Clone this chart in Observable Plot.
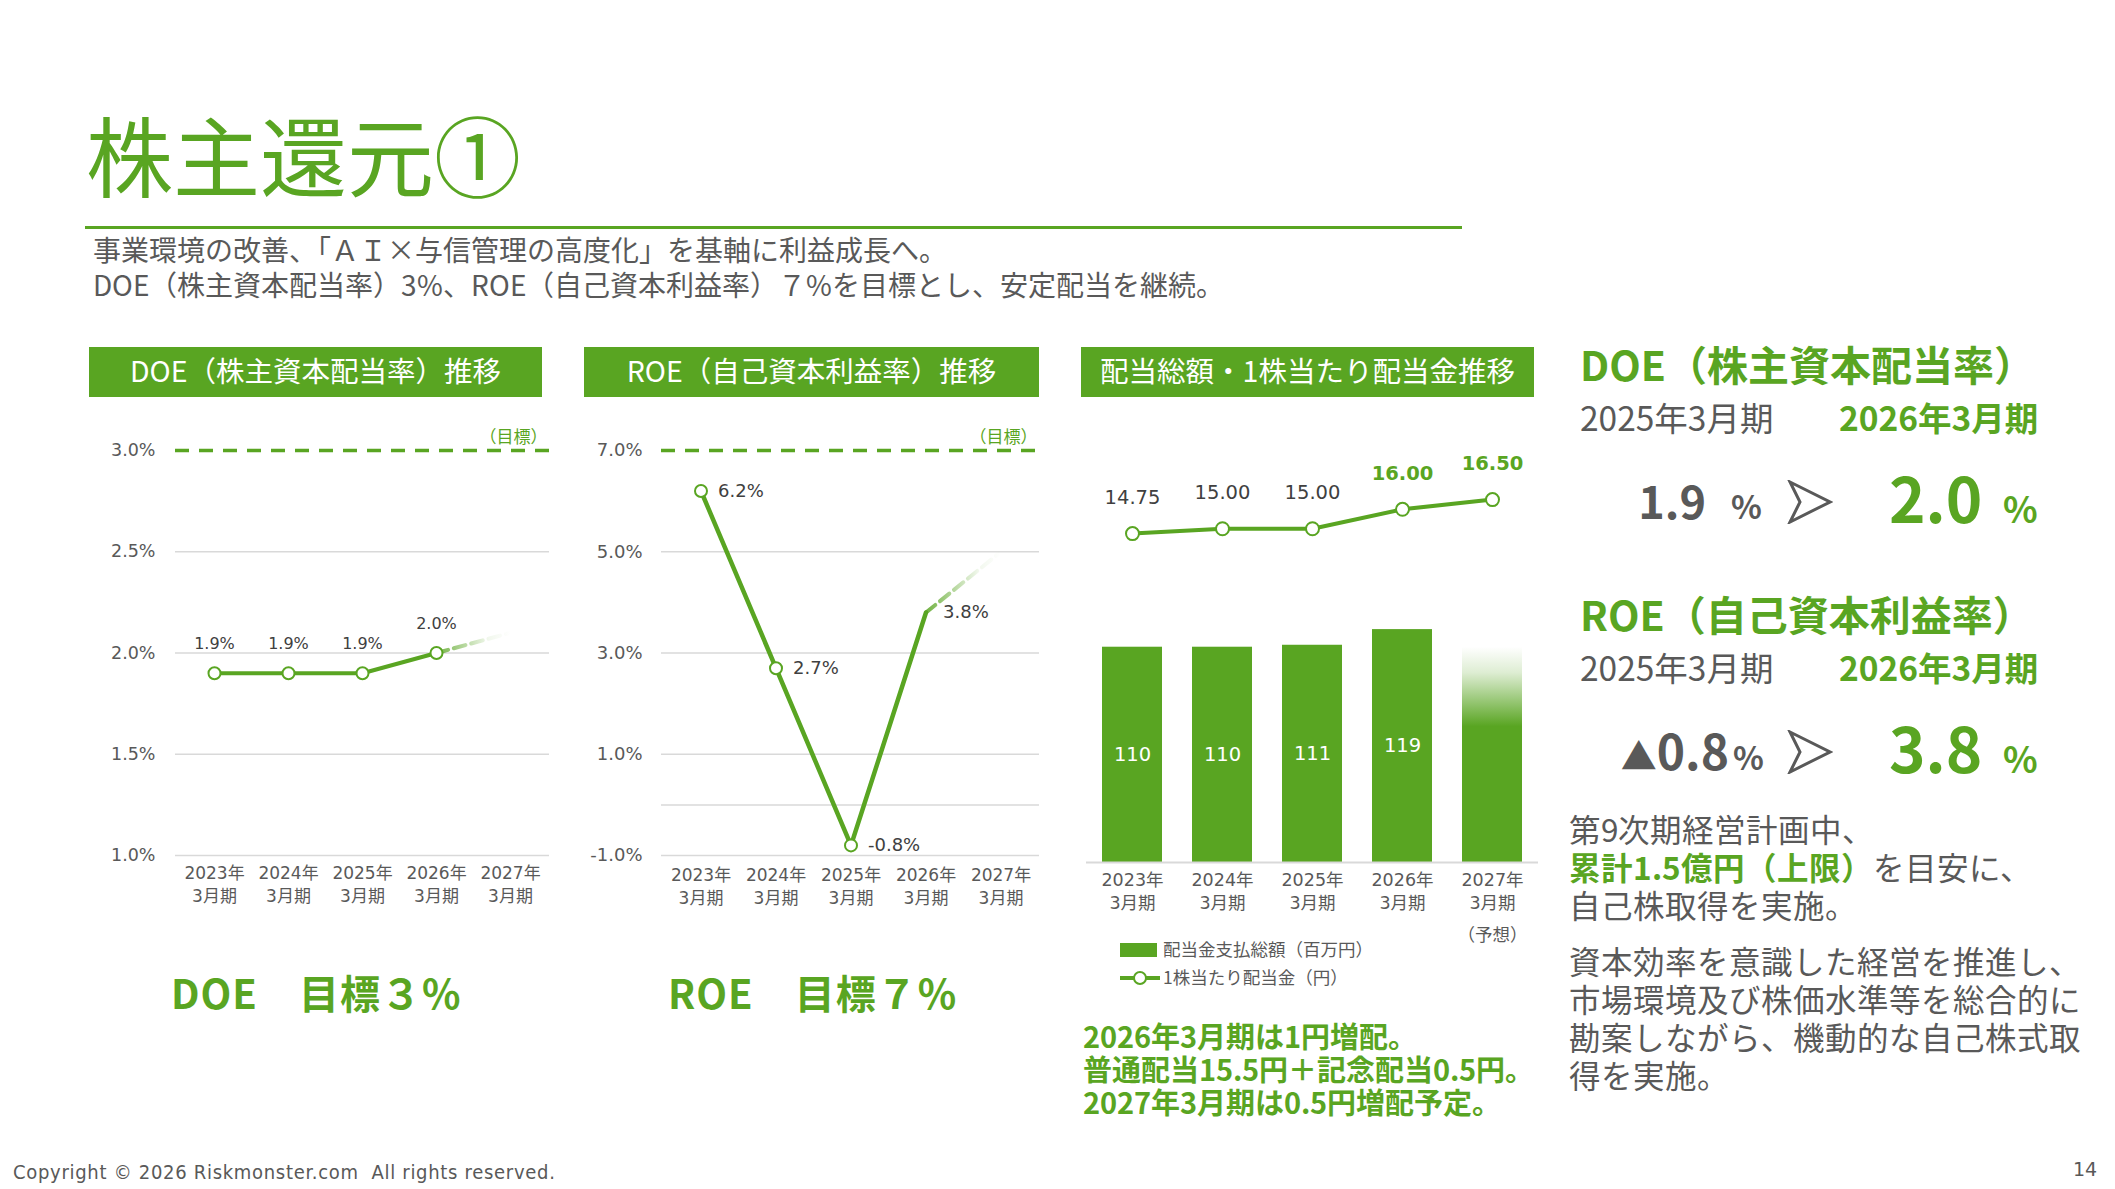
<!DOCTYPE html>
<html lang="ja">
<head>
<meta charset="utf-8">
<script src="https://cdn.jsdelivr.net/npm/d3@7"></script>
<script src="https://cdn.jsdelivr.net/npm/@observablehq/plot@0.6"></script>
<style>
  @font-face {
    font-family: "JPTight";
    src: local("Noto Sans CJK JP Regular"), local("NotoSansCJKjp-Regular"), local("Noto Sans CJK JP");
    font-weight: 400;
    ascent-override: 93.5%; descent-override: 6.5%; line-gap-override: 0%;
  }
  @font-face {
    font-family: "JPTight";
    src: local("Noto Sans CJK JP Bold"), local("NotoSansCJKjp-Bold");
    font-weight: 700;
    ascent-override: 93.5%; descent-override: 6.5%; line-gap-override: 0%;
  }
  html, body { margin: 0; padding: 0; background: #fff; }
  #page { position: relative; width: 2115px; height: 1189px; overflow: hidden;
          font-family: "Noto Sans CJK JP", "Noto Sans", sans-serif; color: #595959; }
  .t { position: absolute; white-space: nowrap; }
  .tight { font-family: "JPTight", "Noto Sans CJK JP", sans-serif; }
  .g { color: #59a522; }
  .b { font-weight: 700; }
  .hdr { position: absolute; top: 347px; height: 50px; box-sizing: border-box; padding-bottom: 6px;
         background: #59a522; color: #fff;
         display: flex; align-items: center; justify-content: center; font-size: 28.5px; }
  .chart { position: absolute; }
  .chart svg { overflow: visible; }
</style>
</head>
<body>
<svg width="0" height="0" style="position:absolute">
  <defs>
    <linearGradient id="fadeLine" x1="0" y1="0" x2="1" y2="0">
      <stop offset="0" stop-color="#59a522" stop-opacity="0.85"/>
      <stop offset="0.7" stop-color="#59a522" stop-opacity="0.08"/>
      <stop offset="1" stop-color="#59a522" stop-opacity="0"/>
    </linearGradient>
    <linearGradient id="fadeBar" x1="0" y1="0" x2="0" y2="1">
      <stop offset="0" stop-color="#59a522" stop-opacity="0"/>
      <stop offset="0.12" stop-color="#59a522" stop-opacity="0.2"/>
      <stop offset="0.37" stop-color="#59a522" stop-opacity="1"/>
      <stop offset="1" stop-color="#59a522" stop-opacity="1"/>
    </linearGradient>
  </defs>
</svg>
<div id="page">
  <div class="t g" style="left:86px;top:110px;font-size:87px;line-height:87px;">株主還元①</div>
  <div style="position:absolute;left:85px;top:226px;width:1377px;height:3px;background:#59a522;"></div>
  <div class="t tight" style="left:93px;top:232px;font-size:28px;line-height:35px;">事業環境の改善、「ＡＩ×与信管理の高度化」を基軸に利益成長へ。<br>DOE（株主資本配当率）3%、ROE（自己資本利益率）７%を目標とし、安定配当を継続。</div>

  <div class="hdr" style="left:89px;width:453px;">DOE（株主資本配当率）推移</div>
  <div class="hdr" style="left:584px;width:455px;">ROE（自己資本利益率）推移</div>
  <div class="hdr" style="left:1081px;width:453px;">配当総額・1株当たり配当金推移</div>

  <div id="doe" class="chart" style="left:89px;top:410px;"></div>
  <div id="roe" class="chart" style="left:584px;top:410px;"></div>
  <div id="divBars" class="chart" style="left:1076px;top:420px;"></div>
  <div id="divLine" class="chart" style="left:1076px;top:420px;pointer-events:none;"></div>

  <div class="t g b" style="left:171px;top:972px;font-size:40px;line-height:40px;letter-spacing:1px;">DOE　目標３%</div>
  <div class="t g b" style="left:668px;top:972px;font-size:40px;line-height:40px;letter-spacing:1px;">ROE　目標７%</div>

  <!-- legend -->
  <div style="position:absolute;left:1120px;top:943px;width:37px;height:14px;background:#59a522;"></div>
  <div class="t" style="left:1163px;top:940px;font-size:17.5px;line-height:17.5px;">配当金支払総額（百万円）</div>
  <div style="position:absolute;left:1120px;top:976px;width:40px;height:4px;background:#59a522;"></div>
  <div style="position:absolute;left:1133px;top:971px;width:10px;height:10px;border:2.5px solid #59a522;border-radius:50%;background:#fff;"></div>
  <div class="t" style="left:1163px;top:968px;font-size:17.5px;line-height:17.5px;">1株当たり配当金（円）</div>

  <div class="t tight g b" style="left:1083px;top:1019px;font-size:29px;line-height:33px;">2026年3月期は1円増配。<br>普通配当15.5円＋記念配当0.5円。<br>2027年3月期は0.5円増配予定。</div>

  <!-- right panel -->
  <div class="t g b" style="left:1580px;top:343px;font-size:41px;line-height:41px;">DOE（株主資本配当率）</div>
  <div class="t" style="left:1580px;top:400px;font-size:33.5px;line-height:33.5px;">2025年3月期</div>
  <div class="t g b" style="left:1839px;top:400px;font-size:33.5px;line-height:33.5px;">2026年3月期</div>
  <div id="doePrev" class="t b" style="left:1556px;width:150px;text-align:right;top:477px;font-size:45px;line-height:45px;"></div>
  <div class="t b" style="left:1731px;top:489px;font-size:32px;line-height:32px;">%</div>
  <svg style="position:absolute;left:1787px;top:480px;" width="46" height="44"><polygon points="3,2 43,22 3,42 13,22" fill="none" stroke="#595959" stroke-width="3" stroke-linejoin="miter"/></svg>
  <div id="doeCur" class="t g b" style="left:1889px;top:465px;font-size:62px;line-height:62px;"></div>
  <div class="t g b" style="left:2003px;top:489px;font-size:36px;line-height:36px;">%</div>

  <div class="t g b" style="left:1580px;top:593px;font-size:41px;line-height:41px;">ROE（自己資本利益率）</div>
  <div class="t" style="left:1580px;top:650px;font-size:33.5px;line-height:33.5px;">2025年3月期</div>
  <div class="t g b" style="left:1839px;top:650px;font-size:33.5px;line-height:33.5px;">2026年3月期</div>
  <div class="t b" style="left:1556px;width:173px;text-align:right;top:725px;font-size:48px;line-height:48px;"><span id="roeSign" style="font-size:36px;"></span><span id="roePrev"></span></div>
  <div class="t b" style="left:1733px;top:740px;font-size:32px;line-height:32px;">%</div>
  <svg style="position:absolute;left:1787px;top:730px;" width="46" height="44"><polygon points="3,2 43,22 3,42 13,22" fill="none" stroke="#595959" stroke-width="3" stroke-linejoin="miter"/></svg>
  <div id="roeCur" class="t g b" style="left:1889px;top:715px;font-size:62px;line-height:62px;"></div>
  <div class="t g b" style="left:2003px;top:739px;font-size:36px;line-height:36px;">%</div>

  <div class="t tight" style="left:1569px;top:810px;font-size:31.5px;line-height:38px;">第9次期経営計画中、<br><span class="g b">累計1.5億円（上限）</span>を目安に、<br>自己株取得を実施。</div>
  <div class="t tight" style="left:1569px;top:942px;font-size:31.5px;line-height:38px;">資本効率を意識した経営を推進し、<br>市場環境及び株価水準等を総合的に<br>勘案しながら、機動的な自己株式取<br>得を実施。</div>

  <div class="t" style="left:13px;top:1162px;font-size:20px;line-height:20px;letter-spacing:0.7px;font-family:'DejaVu Sans Condensed','DejaVu Sans',sans-serif;font-stretch:semi-condensed;">Copyright © 2026 Riskmonster.com&nbsp;&nbsp;All rights reserved.</div>
  <div class="t" style="left:2073px;top:1160px;font-size:19px;line-height:19px;font-family:'DejaVu Sans',sans-serif;">14</div>
</div>

<script>
// ---------- data ----------
const years = ["2023年3月期", "2024年3月期", "2025年3月期", "2026年3月期", "2027年3月期"];
const yearTop = ["2023年", "2024年", "2025年", "2026年", "2027年"];
const yearBottom = ["3月期", "3月期", "3月期", "3月期", "3月期"];
const forecastNote = ["（予想）"];               // under the 2027 dividend label

const doeValues = [1.9, 1.9, 1.9, 2.0];          // 2023–2026 actual (%)
const doeProjection = 2.1;                        // faded 2027 extension (estimated)
const doeTarget = 3.0;
const doeTicks = [1.0, 1.5, 2.0, 2.5, 3.0];

const roeValues = [6.2, 2.7, -0.8, 3.8];          // 2023–2026 (%)
const roeProjection = 5.0;                        // faded 2027 extension (estimated)
const roeTarget = 7.0;
const roeTicks = [-1.0, 1.0, 3.0, 5.0, 7.0];

const dividendTotal = [110, 110, 111, 119];       // 百万円, 2023–2026
const dividendTotalForecast = 110;                // 2027 forecast bar (faded, unlabeled)
const dps = [14.75, 15.00, 15.00, 16.00, 16.50];  // 円, 2023–2027

// ---------- style ----------
const green = "#59a522";
const grid = "#d9d9d9";
const textGray = "#595959";
const chartFont = "'DejaVu Sans', 'Noto Sans CJK JP', sans-serif";
const baseStyle = {fontFamily: chartFont, color: textGray, background: "transparent", overflow: "visible"};

// ---------- right panel numbers from data ----------
document.getElementById("doePrev").textContent = doeValues[2].toFixed(1);
document.getElementById("doeCur").textContent = doeValues[3].toFixed(1);
document.getElementById("roeSign").textContent = roeValues[2] < 0 ? "▲" : "";
document.getElementById("roePrev").textContent = Math.abs(roeValues[2]).toFixed(1);
document.getElementById("roeCur").textContent = roeValues[3].toFixed(1);

function yearLabelMarks(dy1, dy2, size) {
  return [
    Plot.text(years, {x: d => d, frameAnchor: "bottom", dy: dy1, text: (d, i) => yearTop[i], fontSize: size, fill: textGray}),
    Plot.text(years, {x: d => d, frameAnchor: "bottom", dy: dy2, text: (d, i) => yearBottom[i], fontSize: size, fill: textGray})
  ];
}

// ---------- DOE chart ----------
const doeData = doeValues.map((v, i) => ({year: years[i], value: v}));
const doeFade = [{year: years[3], value: doeValues[3]}, {year: years[4], value: doeProjection}];
document.getElementById("doe").append(Plot.plot({
  width: 470, height: 505,
  marginLeft: 86, marginRight: 10, marginTop: 40, marginBottom: 60,
  style: {...baseStyle, fontSize: "17px"},
  x: {type: "band", domain: years, padding: 0, axis: null},
  y: {domain: [1, 3], axis: null},
  marks: [
    Plot.ruleY(doeTicks.filter(t => t < doeTarget), {y: d => d, stroke: grid, strokeWidth: 1.5}),
    Plot.ruleY([doeTarget], {y: d => d, stroke: green, strokeWidth: 3.5, strokeDasharray: "14,10"}),
    Plot.text([doeTarget], {y: d => d, frameAnchor: "right", textAnchor: "end", dy: -13, dx: -2, text: () => "（目標）", fill: green, fontSize: 17}),
    Plot.text(doeTicks, {y: d => d, frameAnchor: "left", textAnchor: "end", dx: -20, text: d => d.toFixed(1) + "%", fontSize: 17.5, fill: textGray}),
    Plot.line(doeFade, {x: "year", y: "value", stroke: "url(#fadeLine)", strokeWidth: 4, strokeDasharray: "12,6"}),
    Plot.line(doeData, {x: "year", y: "value", stroke: green, strokeWidth: 4}),
    Plot.dot(doeData, {x: "year", y: "value", r: 6, fill: "white", stroke: green, strokeWidth: 2}),
    Plot.text(doeData, {x: "year", y: "value", dy: -29, text: d => d.value.toFixed(1) + "%", fontSize: 16, fill: "#404040"}),
    ...yearLabelMarks(23, 46, 17)
  ]
}));

// ---------- ROE chart ----------
const roeData = roeValues.map((v, i) => ({year: years[i], value: v}));
const roeFade = [{year: years[3], value: roeValues[3]}, {year: years[4], value: roeProjection}];
document.getElementById("roe").append(Plot.plot({
  width: 465, height: 505,
  marginLeft: 77, marginRight: 10, marginTop: 40, marginBottom: 60,
  style: {...baseStyle, fontSize: "17px"},
  x: {type: "band", domain: years, padding: 0, axis: null},
  y: {domain: [-1, 7], axis: null},
  marks: [
    Plot.ruleY(roeTicks.filter(t => t < roeTarget).concat([0]), {y: d => d, stroke: grid, strokeWidth: 1.5}),
    Plot.ruleY([roeTarget], {y: d => d, stroke: green, strokeWidth: 3.5, strokeDasharray: "14,10"}),
    Plot.text([roeTarget], {y: d => d, frameAnchor: "right", textAnchor: "end", dy: -13, dx: -2, text: () => "（目標）", fill: green, fontSize: 17}),
    Plot.text(roeTicks, {y: d => d, frameAnchor: "left", textAnchor: "end", dx: -19, text: d => d.toFixed(1) + "%", fontSize: 18, fill: textGray}),
    Plot.line(roeFade, {x: "year", y: "value", stroke: "url(#fadeLine)", strokeWidth: 4, strokeDasharray: "12,6"}),
    Plot.line(roeData, {x: "year", y: "value", stroke: green, strokeWidth: 4.5}),
    Plot.dot(roeData, {x: "year", y: "value", filter: (d, i) => i < 3, r: 6, fill: "white", stroke: green, strokeWidth: 2}),
    Plot.text(roeData, {x: "year", y: "value", dx: 17, textAnchor: "start", text: d => d.value.toFixed(1) + "%", fontSize: 18, fill: "#404040"}),
    ...yearLabelMarks(25, 48, 17)
  ]
}));

// ---------- Dividend bars ----------
const divData = dividendTotal.map((v, i) => ({year: years[i], value: v}));
const divForecast = [{year: years[4], value: dividendTotalForecast}];
document.getElementById("divBars").append(Plot.plot({
  width: 472, height: 525,
  marginLeft: 10, marginRight: 10, marginTop: 168, marginBottom: 83,
  style: {...baseStyle, fontSize: "17px"},
  x: {type: "band", domain: years, padding: 0, axis: null},
  y: {domain: [0, 140], axis: null},
  marks: [
    Plot.barY(divData, {x: "year", y: "value", fill: green, insetLeft: 15, insetRight: 15}),
    Plot.barY(divForecast, {x: "year", y: "value", fill: "url(#fadeBar)", insetLeft: 15, insetRight: 15}),
    Plot.ruleY([0], {y: d => d, stroke: grid, strokeWidth: 2}),
    Plot.text(divData, {x: "year", y: d => d.value / 2, text: d => String(d.value), fill: "white", fontSize: 19.5}),
    ...yearLabelMarks(23, 46, 17.5),
    Plot.text(forecastNote, {x: () => years[4], y: () => 0, dy: 73, text: d => d, fontSize: 17.5, fill: textGray})
  ]
}));

// ---------- Dividend per share line (secondary axis overlay) ----------
const dpsData = dps.map((v, i) => ({year: years[i], value: v}));
document.getElementById("divLine").append(Plot.plot({
  width: 472, height: 525,
  marginLeft: 10, marginRight: 10, marginTop: 11, marginBottom: 125,
  style: {...baseStyle, fontSize: "19px"},
  x: {type: "band", domain: years, padding: 0, axis: null},
  y: {domain: [0, 20], axis: null},
  marks: [
    Plot.line(dpsData, {x: "year", y: "value", stroke: green, strokeWidth: 4}),
    Plot.dot(dpsData, {x: "year", y: "value", r: 6.5, fill: "white", stroke: green, strokeWidth: 2}),
    Plot.text(dpsData, {x: "year", y: "value", filter: (d, i) => i < 3, dy: -36, text: d => d.value.toFixed(2), fontSize: 19.5, fill: "#404040"}),
    Plot.text(dpsData, {x: "year", y: "value", filter: (d, i) => i >= 3, dy: -36, text: d => d.value.toFixed(2), fontSize: 19.5, fontWeight: "bold", fill: green})
  ]
}));
</script>
</body>
</html>
